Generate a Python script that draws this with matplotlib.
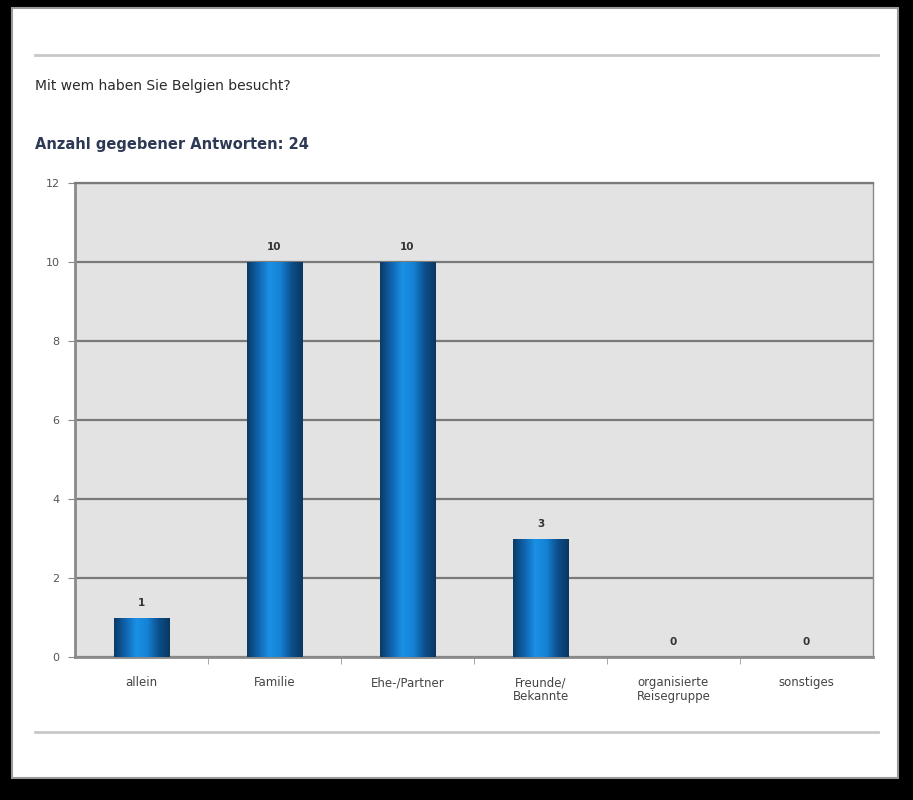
import numpy as np
import matplotlib.pyplot as plt
from matplotlib.colors import LinearSegmentedColormap

# Daten
kategorien = ['allein', 'Familie', 'Ehe-/Partner', 'Freunde/\nBekannte',
              'organisierte\nReisegruppe', 'sonstiges']
anzahl = [1, 10, 10, 3, 0, 0]
y_ticks = [0, 2, 4, 6, 8, 10, 12]

W, H = 913, 800
fig = plt.figure(figsize=(W / 100, H / 100), dpi=100)
fig.patch.set_facecolor('black')

# weisses Blatt (hinter allem)
blatt = plt.Rectangle((12 / W, 1 - 778 / H), 886 / W, 770 / H, transform=fig.transFigure,
                      facecolor='white', edgecolor='#9a9a9a', lw=1.5, zorder=-5)
fig.add_artist(blatt)

# Trennlinien oben und unten
for y in (55, 732):
    fig.add_artist(plt.Line2D([35 / W, 878 / W], [1 - y / H, 1 - y / H],
                              transform=fig.transFigure, color='#c8c8c8', lw=2, zorder=-4))

fig.text(35 / W, 1 - 86 / H, 'Mit wem haben Sie Belgien besucht?', fontsize=10,
         color='#2a2a2a', va='center', ha='left')
fig.text(35 / W, 1 - 144 / H, 'Anzahl gegebener Antworten: 24', fontsize=10.5,
         fontweight='bold', color='#2e3a55', va='center', ha='left')

ax = fig.add_axes([75 / W, 1 - 657 / H, 798 / W, 474 / H])
ax.set_facecolor('#e3e3e3')

x = np.arange(len(kategorien))
balken = ax.bar(x, anzahl, width=0.42, color='#1472c0', zorder=3)

# Zylinder-Verlauf in den Balken
verlauf = LinearSegmentedColormap.from_list(
    'zyl', ['#0b3a66', '#0f63ad', '#1a90e6', '#1582d4', '#0c4f8c', '#0a3760'])
grad = np.linspace(0, 1, 256).reshape(1, -1)
for b in balken:
    if b.get_height() <= 0:
        continue
    im = ax.imshow(grad, cmap=verlauf, aspect='auto', zorder=4,
                   extent=[b.get_x(), b.get_x() + b.get_width(), 0, b.get_height()])
    im.set_clip_path(b)

for xi, v in zip(x, anzahl):
    ax.text(xi, v + 0.25, str(v), ha='center', va='bottom', fontsize=7.5,
            fontweight='bold', color='#333333', zorder=5)

ax.set_xlim(-0.5, len(kategorien) - 0.5)
ax.set_ylim(0, 12)
ax.set_yticks(y_ticks)
ax.set_yticklabels([str(t) for t in y_ticks], fontsize=8, color='#555555')
ax.set_xticks(x)
ax.set_xticklabels(kategorien, fontsize=8.5, color='#444444', linespacing=1.1)
ax.tick_params(axis='x', length=0, pad=14)
ax.set_xticks(np.arange(0.5, len(kategorien) - 0.5), minor=True)
ax.tick_params(axis='x', which='minor', length=5, color='#999999', direction='out')
ax.tick_params(axis='y', length=5, color='#888888', direction='out', pad=6)

ax.yaxis.grid(True, color='#7a7a7a', lw=1.6, zorder=1)
ax.set_axisbelow(True)
for s in ('left', 'bottom'):
    ax.spines[s].set_color('#8a8a8a')
    ax.spines[s].set_linewidth(2)
ax.spines['top'].set_color('#7a7a7a')
ax.spines['top'].set_linewidth(1.6)
ax.spines['right'].set_color('#8a8a8a')
ax.spines['right'].set_linewidth(1)

plt.savefig('out.png', dpi=100, facecolor=fig.get_facecolor())
